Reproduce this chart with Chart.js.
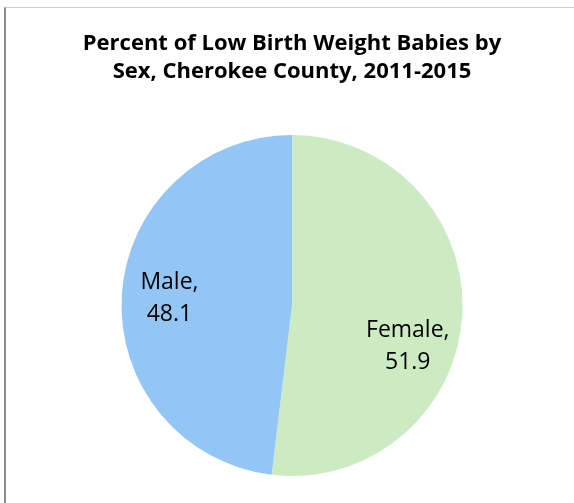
<!DOCTYPE html>
<html>
<head>
<meta charset="utf-8">
<script src="https://cdn.jsdelivr.net/npm/chart.js@4.4.1/dist/chart.umd.min.js"></script>
<style>
  html, body { margin: 0; padding: 0; background: #fff; }
  #wrap { position: relative; width: 574px; height: 503px; overflow: hidden; }
  #frame { position: absolute; left: 4px; top: 7px; width: 620px; height: 560px;
           border-left: 2px solid #8c8c8c; border-top: 1px solid #d0d0d0; }
  #chart { position: absolute; left: 0; top: 0; }
</style>
</head>
<body>
<div id="wrap">
  <div id="frame"></div>
  <canvas id="chart" width="574" height="503"></canvas>
</div>
<script>
// data
const categorias = ['Female', 'Male'];
const valores = [51.9, 48.1];
const cores = ['#cdebc3', '#93c5f5'];
const titulo = ['Percent of Low Birth Weight Babies by', 'Sex, Cherokee County, 2011-2015'];

// labels inside slices, "Name,\nvalue" like the excel chart
const rotulos = {
    id: 'rotulos',
    afterDatasetsDraw(chart) {
        const ctx = chart.ctx;
        const meta = chart.getDatasetMeta(0);
        const desvio = [16, 0]; // degrees, excel "best fit" nudges
        ctx.save();
        ctx.font = '23px "Open Sans"';
        ctx.fillStyle = '#000';
        ctx.textAlign = 'center';
        ctx.textBaseline = 'middle';
        meta.data.forEach((arc, i) => {
            const p = arc.getProps(['x', 'y', 'startAngle', 'endAngle', 'outerRadius'], true);
            const ang = (p.startAngle + p.endAngle) / 2 + desvio[i] * Math.PI / 180;
            const r = p.outerRadius * 0.72;
            const cx = p.x + Math.cos(ang) * r;
            const cy = p.y + Math.sin(ang) * r;
            ctx.fillText(categorias[i] + ',', cx, cy - 16);
            ctx.fillText(valores[i].toFixed(1), cx, cy + 16);
        });
        ctx.restore();
    }
};

new Chart(document.getElementById('chart'), {
    type: 'pie',
    data: {
        labels: categorias,
        datasets: [{
            data: valores,
            backgroundColor: cores,
            borderWidth: 0
        }]
    },
    options: {
        responsive: false,
        animation: false,
        layout: { padding: { left: 10, right: 0, top: 0, bottom: 27 } },
        plugins: {
            legend: { display: false },
            tooltip: { enabled: false },
            title: {
                display: true,
                text: titulo,
                color: '#000',
                font: { family: '"Open Sans"', size: 22, weight: 'bold', lineHeight: '28px' },
                padding: { top: 30, bottom: 49 }
            }
        }
    },
    plugins: [rotulos]
});
</script>
</body>
</html>
